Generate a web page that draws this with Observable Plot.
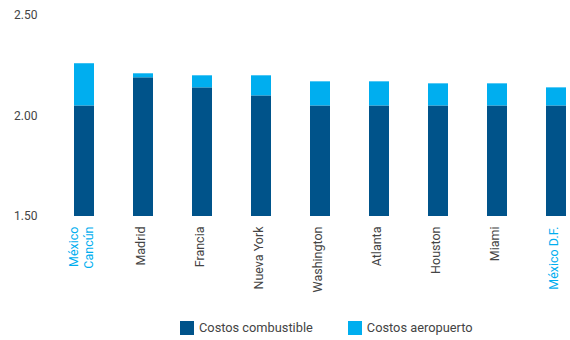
<!DOCTYPE html>
<html>
<head>
<meta charset="utf-8">
<script src="https://cdn.jsdelivr.net/npm/d3@7"></script>
<script src="https://cdn.jsdelivr.net/npm/@observablehq/plot@0.6"></script>
<style>
  body { margin: 0; background: #fff; font-family: Roboto, sans-serif; }
  #legend { display: flex; align-items: center; padding-top: 15px; padding-left: 180px; font-size: 12.8px; color: #444; }
  .item { display: flex; align-items: center; margin-right: 35px; }
  .sw { width: 14px; height: 14px; margin-right: 5px; }
</style>
</head>
<body>
<div id="chart"></div>
<div id="legend"></div>
<script>
const categories = ["México\nCancún", "Madrid", "Francia", "Nueva York", "Washington", "Atlanta", "Houston", "Miami", "México D.F."];
const combustible = [2.05, 2.19, 2.14, 2.10, 2.05, 2.05, 2.05, 2.05, 2.05];
const aeropuerto = [0.21, 0.02, 0.06, 0.10, 0.12, 0.12, 0.11, 0.11, 0.09];
const highlighted = ["México\nCancún", "México D.F."];
const yTicks = [1.5, 2.0, 2.5];
const seriesNames = ["Costos combustible", "Costos aeropuerto"];
const colors = ["#00538A", "#00AEEF"];
const base = 1.5;

const data = categories.map((c, i) => ({cat: c, comb: combustible[i], aero: aeropuerto[i]}));

const plot = Plot.plot({
  width: 570,
  height: 305,
  marginTop: 15,
  marginBottom: 89,
  marginLeft: 71,
  marginRight: 1,
  style: {fontFamily: "Roboto, sans-serif", fontSize: "12px", color: "#444"},
  x: {domain: categories, paddingInner: 0.665, paddingOuter: 0, axis: null},
  y: {domain: [1.5, 2.5], ticks: yTicks, tickFormat: d3.format(".2f"), tickSize: 0, tickPadding: 34, label: null},
  marks: [
    Plot.barY(data, {x: "cat", y1: () => base, y2: "comb", fill: colors[0]}),
    Plot.barY(data, {x: "cat", y1: "comb", y2: d => d.comb + d.aero, fill: colors[1]}),
    Plot.text(data, {
      x: "cat", y: () => base, text: "cat", rotate: -90, textAnchor: "end", lineAnchor: "middle",
      lineHeight: 1.25, dy: 10, dx: -4, fontSize: 12.5,
      fill: d => highlighted.includes(d.cat) ? "#00AEEF" : "#444"
    })
  ]
});
document.getElementById("chart").appendChild(plot);

const legend = document.getElementById("legend");
seriesNames.forEach((n, i) => {
  const it = document.createElement("div");
  it.className = "item";
  it.innerHTML = `<div class="sw" style="background:${colors[i]}"></div><span>${n}</span>`;
  legend.appendChild(it);
});
</script>
</body>
</html>
